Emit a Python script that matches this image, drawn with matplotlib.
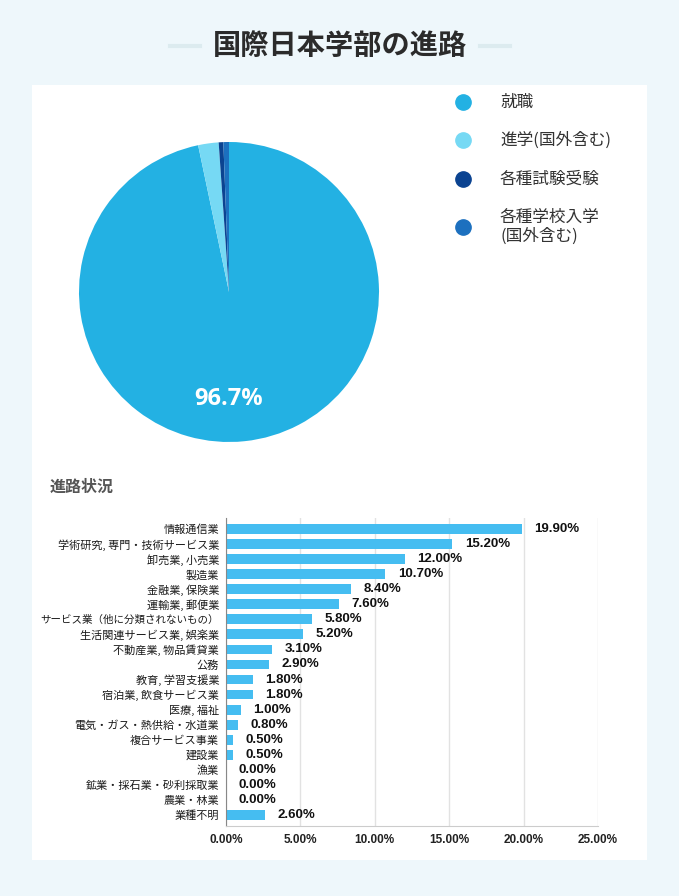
import matplotlib
matplotlib.use("Agg")
import matplotlib.pyplot as plt
from matplotlib.lines import Line2D
from matplotlib.patches import Rectangle
from matplotlib.ticker import FuncFormatter

plt.rcParams['font.family'] = ['Noto Sans CJK JP', 'DejaVu Sans']

title = "国際日本学部の進路"
pie_labels = ["就職", "進学(国外含む)", "各種試験受験", "各種学校入学\n(国外含む)"]
pie_values = [96.7, 2.2, 0.5, 0.6]
pie_colors = ["#23B1E3", "#76D9F4", "#0B4391", "#1C70BF"]

bar_title = "進路状況"
categories = ["情報通信業", "学術研究, 専門・技術サービス業", "卸売業, 小売業", "製造業",
              "金融業, 保険業", "運輸業, 郵便業", "サービス業（他に分類されないもの）",
              "生活関連サービス業, 娯楽業", "不動産業, 物品賃貸業", "公務",
              "教育, 学習支援業", "宿泊業, 飲食サービス業", "医療, 福祉",
              "電気・ガス・熱供給・水道業", "複合サービス事業", "建設業", "漁業",
              "鉱業・採石業・砂利採取業", "農業・林業", "業種不明"]
values = [19.9, 15.2, 12.0, 10.7, 8.4, 7.6, 5.8, 5.2, 3.1, 2.9,
          1.8, 1.8, 1.0, 0.8, 0.5, 0.5, 0.0, 0.0, 0.0, 2.6]
xticks = [0, 5, 10, 15, 20, 25]

W, H = 679, 896
fig = plt.figure(figsize=(W / 100, H / 100), dpi=100)
fig.patch.set_facecolor("#EEF7FB")

def fx(x):
    return x / W

def fy(y):
    return 1 - y / H

# white panel
fig.add_artist(Rectangle((fx(32), fy(860)), fx(647) - fx(32), fy(85) - fy(860),
                         transform=fig.transFigure, facecolor="white", edgecolor="none", zorder=0))

# title
fig.text(fx(340), fy(46), title, ha="center", va="center", fontsize=20.3,
         fontweight="bold", color="#2B2B2B")
for x0, x1 in [(170, 200), (480, 510)]:
    fig.add_artist(Line2D([fx(x0), fx(x1)], [fy(46), fy(46)], transform=fig.transFigure,
                          color="#DCEBEF", lw=3))

# pie
cx, cy, r = 229, 292, 150
axp = fig.add_axes([fx(cx - r), fy(cy + r), fx(2 * r), (2 * r) / H])
wedges, _ = axp.pie(pie_values, colors=pie_colors, startangle=90, counterclock=False,
                    wedgeprops=dict(linewidth=0))
axp.set_xlim(-1, 1)
axp.set_ylim(-1, 1)
axp.set_aspect("equal")
axp.text(0, -0.71, f"{pie_values[0]}%", ha="center", va="center", color="white",
         fontsize=17, fontweight="bold", family=["Open Sans", "DejaVu Sans"])

# legend
leg_y = [102, 140, 179, 227]
for lab, col, y in zip(pie_labels, pie_colors, leg_y):
    fig.add_artist(Line2D([fx(463)], [fy(y)], transform=fig.transFigure, marker="o",
                          markersize=11, color=col, linestyle="none"))
    fig.text(fx(500), fy(y), lab, ha="left", va="center", fontsize=12, color="#333333",
             linespacing=1.15)

# bar chart
fig.text(fx(50), fy(487), bar_title, ha="left", va="center", fontsize=11.5,
         fontweight="bold", color="#555555")
axb = fig.add_axes([fx(226), fy(826), fx(598) - fx(226), (826 - 518) / H])
ypos = list(range(len(categories)))
axb.barh(ypos, values, height=0.65, color="#45BDF1", zorder=2)
axb.set_ylim(len(categories) - 1 + 0.73, -0.73)
axb.set_xlim(0, 25)
axb.set_xticks(xticks)
axb.xaxis.set_major_formatter(FuncFormatter(lambda v, p: f"{v:.2f}%"))
axb.set_yticks(ypos)
axb.set_yticklabels(categories, fontsize=8.0, color="#1A1A1A")
for lab in axb.get_xticklabels():
    lab.set_family(["Liberation Sans", "DejaVu Sans"])
    lab.set_fontweight("bold")
    lab.set_fontsize(8.5)
    lab.set_color("#222222")
axb.tick_params(axis="both", length=0)
axb.tick_params(axis="x", pad=6)
axb.tick_params(axis="y", pad=5)
axb.grid(axis="x", color="#E2E2E2", lw=1, zorder=0)
for s in ["top", "right"]:
    axb.spines[s].set_visible(False)
axb.spines["left"].set_color("#888888")
axb.spines["bottom"].set_color("#CCCCCC")
for y, v in zip(ypos, values):
    axb.annotate(f"{v:.2f}%", (v, y), xytext=(9, 0), textcoords="offset points",
                 ha="left", va="center", fontsize=9.5, fontweight="bold",
                 family=["Liberation Sans", "DejaVu Sans"], color="#111111")

# shrink any tick label that would run past the white panel
fig.canvas.draw()
renderer = fig.canvas.get_renderer()
limit = 40
for lab in axb.get_yticklabels():
    bb = lab.get_window_extent(renderer)
    if bb.x0 < limit:
        avail = bb.x1 - limit
        lab.set_fontsize(lab.get_fontsize() * avail / bb.width)

fig.savefig("out.png", dpi=100, facecolor=fig.get_facecolor())
